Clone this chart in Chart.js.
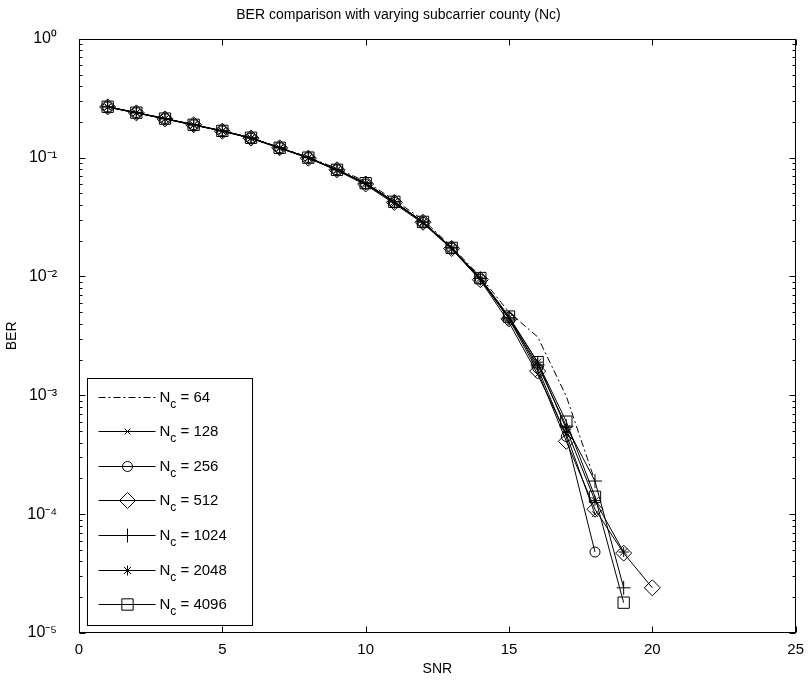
<!DOCTYPE html>
<html>
<head>
<meta charset="utf-8">
<script src="https://cdn.jsdelivr.net/npm/chart.js@4/dist/chart.umd.min.js"></script>
<style>
    html, body { margin: 0; padding: 0; background: #fff; }
    #wrap { width: 812px; height: 687px; }
</style>
</head>
<body>
<div id="wrap"><canvas id="berChart" width="812" height="687"></canvas></div>
<script>
const snr = [1, 2, 3, 4, 5, 6, 7, 8, 9, 10, 11, 12, 13, 14, 15, 16, 17, 18, 19, 20];
const xTicks = [0, 5, 10, 15, 20, 25];
const yDecades = [1e-5, 1e-4, 1e-3, 1e-2, 1e-1, 1];

// BER, one value per SNR step (series stop where the curve stops)
const nc64 = [0.268, 0.240, 0.214, 0.190, 0.168, 0.147, 0.122, 0.101, 0.081, 0.063, 0.044, 0.030, 0.0178, 0.0100, 0.0050, 0.0031, 0.00098, 0.00019];
const nc128 = [0.266, 0.238, 0.212, 0.188, 0.167, 0.145, 0.120, 0.099, 0.078, 0.059, 0.041, 0.028, 0.0170, 0.0093, 0.0041, 0.0015, 0.00047, 0.00010];
const nc256 = [0.267, 0.239, 0.213, 0.189, 0.168, 0.146, 0.121, 0.100, 0.079, 0.060, 0.042, 0.0285, 0.0173, 0.0095, 0.0045, 0.0017, 0.00045, 0.000048];
const nc512 = [0.267, 0.238, 0.212, 0.189, 0.167, 0.146, 0.121, 0.099, 0.079, 0.060, 0.042, 0.0286, 0.0172, 0.0094, 0.0044, 0.0016, 0.00041, 0.00011, 0.000047, 0.000024];
const nc1024 = [0.268, 0.239, 0.213, 0.189, 0.168, 0.147, 0.121, 0.100, 0.079, 0.061, 0.0425, 0.0288, 0.0174, 0.0096, 0.0044, 0.0018, 0.00055, 0.00019, 0.000024];
const nc2048 = [0.267, 0.238, 0.212, 0.188, 0.168, 0.146, 0.121, 0.100, 0.079, 0.061, 0.0425, 0.0287, 0.0174, 0.0097, 0.0045, 0.0019, 0.00052, 0.00013, 0.000048];
const nc4096 = [0.268, 0.239, 0.213, 0.189, 0.168, 0.147, 0.121, 0.100, 0.079, 0.061, 0.0425, 0.0288, 0.0174, 0.0097, 0.0046, 0.0019, 0.00060, 0.00014, 0.000018];

const FONT = '"Liberation Sans", Arial, sans-serif';
const SUP = { "0": "\u2070", "1": "\u00b9", "2": "\u00b2", "3": "\u00b3", "4": "\u2074", "5": "\u2075", "-": "\u207b" };

function toPoints(values) {
    return values.map((v, i) => ({ x: snr[i], y: v }));
}

function series(label, values, style, radius, dash) {
    return {
        label: label,
        data: toPoints(values),
        borderColor: "#000",
        borderWidth: 1,
        borderDash: dash || [],
        pointStyle: style,
        pointRadius: radius,
        pointBorderColor: "#000",
        pointBackgroundColor: "rgba(0,0,0,0)",
        pointBorderWidth: 1,
        fill: false,
        tension: 0,
    };
}

const datasets = [
    series("64", nc64, false, 0, [7, 3, 2, 3]),
    series("128", nc128, "crossRot", 4),
    series("256", nc256, "circle", 5),
    series("512", nc512, "rectRot", 8),
    series("1024", nc1024, "cross", 7),
    series("2048", nc2048, "star", 5),
    series("4096", nc4096, "rect", 8),
];

// inward ticks, box and the boxed legend drawn the way the original figure shows them
const matlabAxes = {
    id: "matlabAxes",
    afterDraw(chart) {
        const ctx = chart.ctx;
        const a = chart.chartArea;
        const xs = chart.scales.x;
        const ys = chart.scales.y;
        const L = Math.round(a.left) + 0.5;
        const R = Math.round(a.right) - 0.5;
        const T = Math.round(a.top) + 0.5;
        const B = Math.round(a.bottom) - 0.5;
        ctx.save();
        ctx.strokeStyle = "#000";
        ctx.lineWidth = 1;
        ctx.setLineDash([]);
        ctx.beginPath();
        xTicks.forEach((v) => {
            const px = Math.round(xs.getPixelForValue(v)) + 0.5;
            ctx.moveTo(px, B); ctx.lineTo(px, B - 6);
            ctx.moveTo(px, T); ctx.lineTo(px, T + 6);
        });
        yDecades.forEach((d) => {
            const py = Math.round(ys.getPixelForValue(d)) + 0.5;
            ctx.moveTo(L, py); ctx.lineTo(L + 6, py);
            ctx.moveTo(R, py); ctx.lineTo(R - 6, py);
            if (d < 1) {
                for (let m = 2; m <= 9; m++) {
                    const pm = Math.round(ys.getPixelForValue(d * m)) + 0.5;
                    ctx.moveTo(L, pm); ctx.lineTo(L + 3, pm);
                    ctx.moveTo(R, pm); ctx.lineTo(R - 3, pm);
                }
            }
        });
        ctx.stroke();
        ctx.strokeRect(L, T, R - L, B - T);

        // legend
        const bx = L + 8;
        const bw = 165;
        const bh = 247;
        const by = B - 7 - bh;
        ctx.fillStyle = "#fff";
        ctx.fillRect(bx, by, bw, bh);
        ctx.strokeRect(bx, by, bw, bh);
        chart.data.datasets.forEach((ds, i) => {
            const ry = Math.round(by + 18 + i * 34.6) + 0.5;
            ctx.beginPath();
            ctx.setLineDash(ds.borderDash);
            ctx.moveTo(bx + 11, ry);
            ctx.lineTo(bx + 68, ry);
            ctx.stroke();
            ctx.setLineDash([]);
            if (ds.pointStyle) {
                ctx.fillStyle = "rgba(0,0,0,0)";
                Chart.helpers.drawPoint(ctx, {
                    pointStyle: ds.pointStyle,
                    radius: ds.pointRadius,
                    rotation: 0,
                    borderWidth: 1,
                }, bx + 40, ry);
            }
            ctx.fillStyle = "#000";
            ctx.textBaseline = "middle";
            ctx.textAlign = "left";
            ctx.font = "15px " + FONT;
            ctx.fillText("N", bx + 72, ry);
            const nW = ctx.measureText("N").width;
            ctx.font = "12px " + FONT;
            ctx.fillText("c", bx + 72 + nW, ry + 7);
            const cW = ctx.measureText("c").width;
            ctx.font = "15px " + FONT;
            ctx.fillText(" = " + ds.label, bx + 72 + nW + cW, ry);
        });
        ctx.restore();
    },
};

const ctx = document.getElementById("berChart").getContext("2d");
new Chart(ctx, {
    type: "line",
    data: { datasets: datasets },
    options: {
        responsive: false,
        animation: false,
        layout: { padding: { left: 0, right: 15, top: 0, bottom: 0 } },
        plugins: {
            legend: { display: false },
            tooltip: { enabled: false },
            title: {
                display: true,
                text: "BER comparison with varying subcarrier county (Nc)",
                color: "#000",
                font: { family: FONT, size: 14, weight: "normal" },
                padding: { top: 7, bottom: 15 },
            },
        },
        scales: {
            x: {
                type: "linear",
                min: 0,
                max: 25,
                afterBuildTicks: (scale) => {
                    scale.ticks = xTicks.map((v) => ({ value: v }));
                },
                afterFit: (scale) => {
                    scale.height = 54;
                },
                ticks: {
                    color: "#000",
                    padding: 8,
                    maxRotation: 0,
                    font: { family: FONT, size: 15 },
                },
                grid: { display: false, drawTicks: false },
                border: { display: false },
                title: {
                    display: true,
                    text: "SNR",
                    color: "#000",
                    font: { family: FONT, size: 14 },
                    padding: { top: 0, bottom: 9 },
                },
            },
            y: {
                type: "logarithmic",
                min: 1e-5,
                max: 1,
                afterBuildTicks: (scale) => {
                    scale.ticks = yDecades.map((v) => ({ value: v }));
                },
                afterFit: (scale) => {
                    scale.width = 79;
                },
                ticks: {
                    color: "#000",
                    padding: 22,
                    font: { family: FONT, size: 16 },
                    callback: (v) => {
                        const e = String(Math.round(Math.log10(v)));
                        return "10" + e.split("").map((c) => SUP[c]).join("");
                    },
                },
                grid: { display: false, drawTicks: false },
                border: { display: false },
                title: {
                    display: true,
                    text: "BER",
                    color: "#000",
                    font: { family: FONT, size: 14 },
                    padding: { top: 4, bottom: 0 },
                },
            },
        },
    },
    plugins: [matlabAxes],
});
</script>
</body>
</html>
